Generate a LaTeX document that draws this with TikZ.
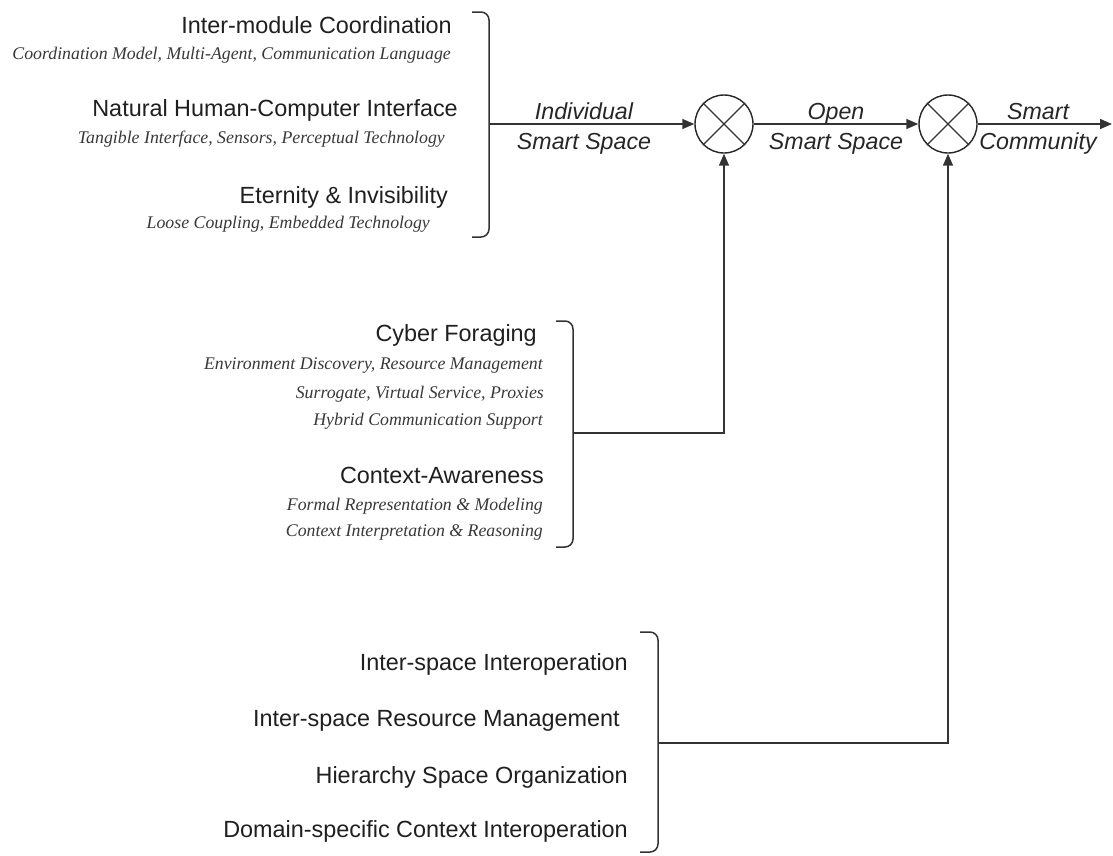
\documentclass[tikz,border=0pt]{standalone}
\usepackage{fontspec}
\setmainfont{Liberation Serif}
\setsansfont{Liberation Sans}
\usetikzlibrary{arrows.meta}

\begin{document}
\begin{tikzpicture}[x=1pt,y=-1pt,
  head/.style={anchor=base east, inner sep=0pt, font=\fontsize{23.4}{28}\selectfont\sffamily, text=black!88},
  sub/.style={anchor=base east, inner sep=0pt, font=\fontsize{17.8}{21}\selectfont\rmfamily\itshape, text=black!78},
  flowlabel/.style={anchor=base, inner sep=0pt, font=\fontsize{23.2}{28}\selectfont\sffamily\itshape, text=black!85},
  bracket/.style={draw=black!80, line width=1.5pt, rounded corners=8pt},
  link/.style={draw=black!80, line width=1.5pt},
  flow/.style={link, -{Triangle[length=12pt,width=10pt]}},
  mixer/.style={circle, draw=black!85, line width=1.4pt, minimum size=58pt, inner sep=0pt},
]
\useasboundingbox (0,0) rectangle (1113,855);

% ---- first group: individual smart space ----
\node[head] (h1) at (452,33)  {Inter-module Coordination};
\node[sub]  (s1) at (451,59)  {Coordination Model, Multi-Agent, Communication Language};
\node[head] (h2) at (458,116) {Natural Human-Computer Interface};
\node[sub]  (s2) at (445,143) {Tangible Interface, Sensors, Perceptual Technology};
\node[head] (h3) at (448,203) {Eternity \& Invisibility};
\node[sub]  (s3) at (430,228) {Loose Coupling, Embedded Technology};
\draw[bracket] (472,12) -- (489,12) -- (489,237) -- (472,237);
\coordinate (b1) at (489,124);

% ---- second group: open smart space ----
\node[head] (h4) at (537,341) {Cyber Foraging};
\node[sub]  (s4) at (543,369) {Environment Discovery, Resource Management};
\node[sub]  (s5) at (544,398) {Surrogate, Virtual Service, Proxies};
\node[sub]  (s6) at (543,425) {Hybrid Communication Support};
\node[head] (h5) at (544,483) {Context-Awareness};
\node[sub]  (s7) at (543,510) {Formal Representation \& Modeling};
\node[sub]  (s8) at (543,536) {Context Interpretation \& Reasoning};
\draw[bracket] (556,321) -- (573,321) -- (573,547) -- (556,547);
\coordinate (b2) at (573,433);

% ---- third group: smart community ----
\node[head] (h6) at (628,670) {Inter-space Interoperation};
\node[head] (h7) at (620,726) {Inter-space Resource Management};
\node[head] (h8) at (628,783) {Hierarchy Space Organization};
\node[head] (h9) at (628,837) {Domain-specific Context Interoperation};
\draw[bracket] (640,632) -- (658,632) -- (658,852) -- (640,852);
\coordinate (b3) at (658,743);

% ---- combining junctions ----
\node[mixer] (c1) at (724,124) {};
\node[mixer] (c2) at (948,124) {};
\foreach \c in {c1,c2}
  \draw[link, line width=1.2pt] (\c.45) -- (\c.225) (\c.135) -- (\c.315);
\coordinate (out) at (1112,124);

% ---- connectors ----
\draw[flow] (b1) -- (c1.west);
\draw[flow] (c1.east) -- (c2.west);
\draw[flow] (c2.east) -- (out);
\draw[flow] (b2) -| (c1.south);
\draw[flow] (b3) -| (c2.south);

% ---- flow labels ----
\node[flowlabel] (l1a) at (584,119) {Individual};
\node[flowlabel] (l1b) at (584,149) {Smart Space};
\node[flowlabel] (l2a) at (836,119) {Open};
\node[flowlabel] (l2b) at (836,149) {Smart Space};
\node[flowlabel] (l3a) at (1038,119) {Smart};
\node[flowlabel] (l3b) at (1038,149) {Community};
\end{tikzpicture}
\end{document}
